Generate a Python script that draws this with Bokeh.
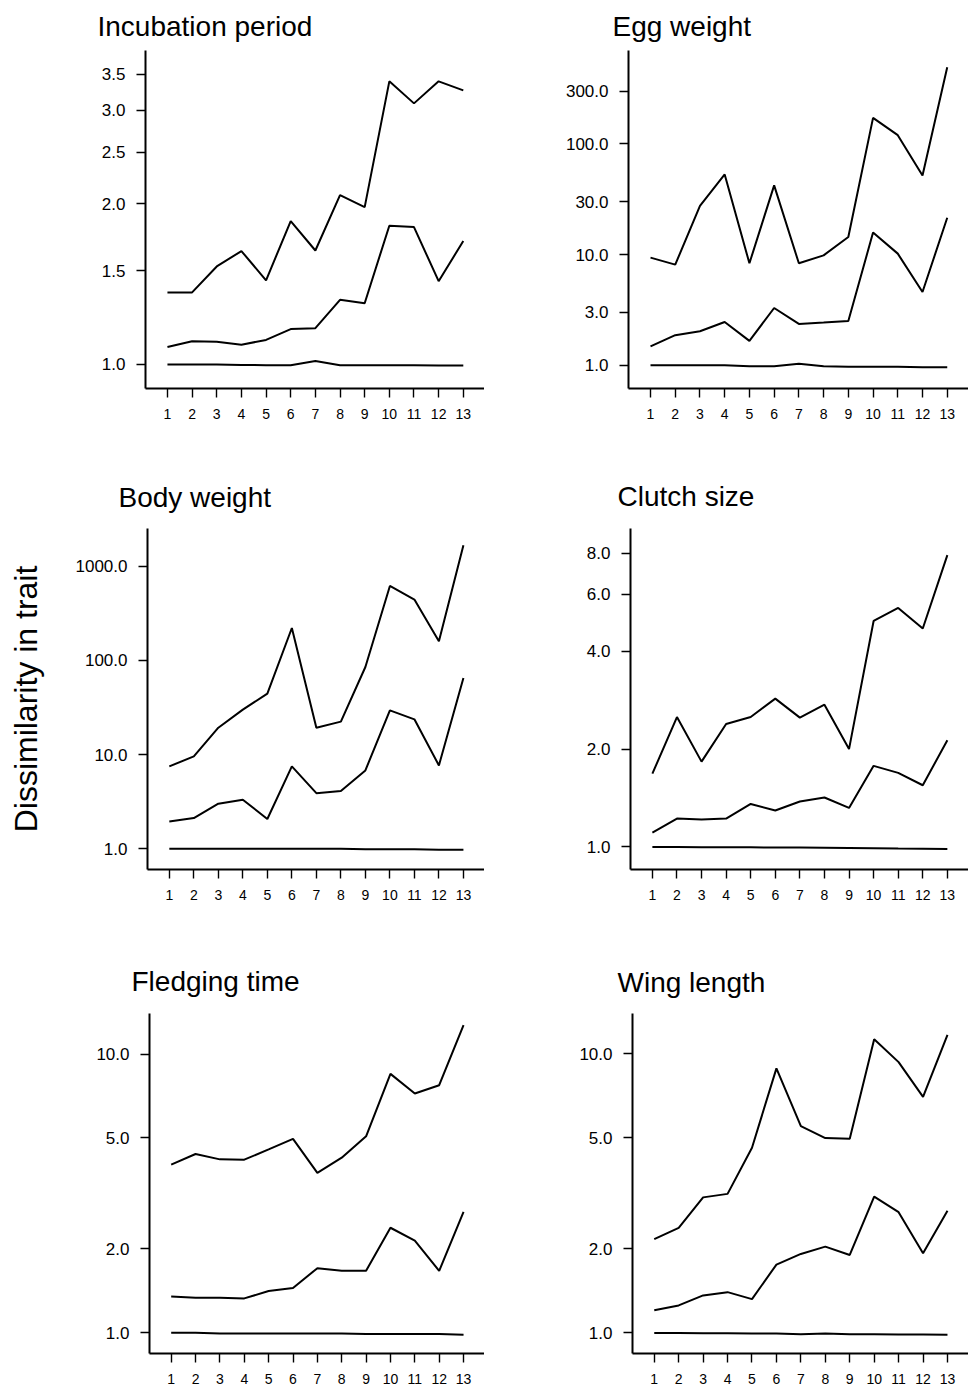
from bokeh.plotting import figure
from bokeh.models import FixedTicker, PrintfTickFormatter, Range1d
from bokeh.layouts import column, row
from bokeh.embed import file_html
from bokeh.resources import INLINE

steps = list(range(1, 14))
x_tick_labels = [str(s) for s in steps]

# Incubation period
inc_upper = [1.365, 1.365, 1.527, 1.632, 1.438, 1.858, 1.636, 2.078, 1.973, 3.396, 3.088, 3.396, 3.267]
inc_median = [1.078, 1.106, 1.103, 1.089, 1.112, 1.165, 1.170, 1.322, 1.303, 1.821, 1.810, 1.433, 1.704]
inc_lower = [1.0, 1.0, 1.0, 0.998, 0.997, 0.997, 1.015, 0.997, 0.997, 0.997, 0.997, 0.996, 0.996]
inc_ticks = [1.0, 1.5, 2.0, 2.5, 3.0, 3.5]

# Egg weight
egg_upper = [9.38, 8.11, 27.5, 53.0, 8.34, 42.2, 8.34, 9.84, 14.4, 172.0, 120.0, 51.9, 494.0]
egg_median = [1.48, 1.87, 2.03, 2.46, 1.66, 3.29, 2.36, 2.43, 2.51, 15.8, 10.2, 4.59, 21.5]
egg_lower = [1.0, 1.0, 1.0, 1.0, 0.98, 0.98, 1.03, 0.98, 0.97, 0.97, 0.97, 0.96, 0.96]
egg_ticks = [1.0, 3.0, 10.0, 30.0, 100.0, 300.0]

# Body weight
body_upper = [7.50, 9.58, 19.3, 30.0, 44.4, 221.0, 19.3, 22.4, 85.2, 618.0, 443.0, 160.0, 1673.0]
body_median = [1.95, 2.12, 3.01, 3.32, 2.07, 7.50, 3.90, 4.10, 6.80, 29.5, 23.7, 7.68, 65.1]
body_lower = [1.0, 1.0, 1.0, 1.0, 1.0, 1.0, 1.0, 1.0, 0.99, 0.99, 0.99, 0.98, 0.98]
body_ticks = [1.0, 10.0, 100.0, 1000.0]

# Clutch size
clutch_upper = [1.68, 2.51, 1.83, 2.39, 2.51, 2.86, 2.50, 2.74, 2.00, 4.96, 5.44, 4.70, 7.91]
clutch_median = [1.107, 1.222, 1.214, 1.222, 1.356, 1.294, 1.379, 1.419, 1.318, 1.776, 1.690, 1.548, 2.130]
clutch_lower = [1.0, 1.0, 0.998, 0.998, 0.997, 0.996, 0.995, 0.994, 0.992, 0.99, 0.988, 0.987, 0.985]
clutch_ticks = [1.0, 2.0, 4.0, 6.0, 8.0]

# Fledging time
fledge_upper = [4.01, 4.38, 4.19, 4.18, 4.55, 4.96, 3.75, 4.25, 5.07, 8.49, 7.22, 7.73, 12.7]
fledge_median = [1.35, 1.337, 1.337, 1.329, 1.412, 1.447, 1.706, 1.669, 1.669, 2.382, 2.141, 1.669, 2.717]
fledge_lower = [1.0, 1.0, 0.995, 0.995, 0.995, 0.995, 0.995, 0.995, 0.99, 0.99, 0.99, 0.99, 0.985]
fledge_ticks = [1.0, 2.0, 5.0, 10.0]

# Wing length
wing_upper = [2.17, 2.38, 3.06, 3.15, 4.61, 8.87, 5.51, 4.99, 4.96, 11.28, 9.34, 7.01, 11.69]
wing_median = [1.205, 1.255, 1.363, 1.400, 1.322, 1.758, 1.919, 2.038, 1.903, 3.081, 2.709, 1.929, 2.739]
wing_lower = [1.0, 1.0, 0.997, 0.997, 0.995, 0.995, 0.99, 0.995, 0.99, 0.99, 0.988, 0.987, 0.985]
wing_ticks = [1.0, 2.0, 5.0, 10.0]

y_title = "Dissimilarity in trait"

FONT = "Liberation Sans"
X_LO, X_HI = 0.11, 13.86


def panel(title, upper, median, lower, yticks, ylo, yhi, height, b_left, b_top, b_bottom,
          t_offset, t_standoff, ylabel=None):
    p = figure(width=484, height=height, y_axis_type="log",
               x_range=Range1d(X_LO, X_HI), y_range=Range1d(ylo, yhi),
               output_backend="svg", toolbar_location=None,
               min_border_left=b_left, min_border_right=0,
               min_border_top=b_top, min_border_bottom=b_bottom)
    p.outline_line_color = None
    p.grid.visible = False
    for ys in (upper, median, lower):
        p.line(steps, ys, line_color="black", line_width=2)
    p.title.text = title
    p.title.align = "left"
    p.title.offset = t_offset
    p.title.standoff = t_standoff
    p.title.text_font = FONT
    p.title.text_font_size = "28px"
    p.title.text_font_style = "normal"
    p.title.text_color = "black"

    p.xaxis.ticker = FixedTicker(ticks=steps, minor_ticks=[])
    p.xaxis.major_label_overrides = {s: l for s, l in zip(steps, x_tick_labels)}
    p.yaxis.ticker = FixedTicker(ticks=yticks, minor_ticks=[])
    p.yaxis.formatter = PrintfTickFormatter(format="%.1f")
    for ax in (p.xaxis[0], p.yaxis[0]):
        ax.axis_line_width = 2
        ax.axis_line_color = "black"
        ax.major_tick_line_color = "black"
        ax.major_tick_line_width = 1.4
        ax.major_tick_in = 0
        ax.major_tick_out = 9
        ax.minor_tick_line_color = None
        ax.major_label_text_font = FONT
        ax.major_label_text_color = "black"
    p.xaxis.major_label_text_font_size = "14px"
    p.xaxis.major_label_standoff = 11
    p.yaxis.major_label_text_font_size = "17px"
    p.yaxis.major_label_standoff = 11
    if ylabel:
        p.yaxis.axis_label = ylabel
        p.yaxis.axis_label_text_font = FONT
        p.yaxis.axis_label_text_font_size = "32px"
        p.yaxis.axis_label_text_font_style = "normal"
        p.yaxis.axis_label_text_color = "black"
        p.yaxis.axis_label_standoff = 29
    return p


p1 = panel("Incubation period", inc_upper, inc_median, inc_lower, inc_ticks, 0.9015, 3.88,
           445, 145, 50, 57, -48, 17)
p2 = panel("Egg weight", egg_upper, egg_median, egg_lower, egg_ticks, 0.616, 699.0,
           445, 144, 50, 57, -16, 17)
p3 = panel("Body weight", body_upper, body_median, body_lower, body_ticks, 0.603, 2515.0,
           485, 147, 83, 61, -29, 31, ylabel=y_title)
p4 = panel("Clutch size", clutch_upper, clutch_median, clutch_lower, clutch_ticks, 0.852, 9.55,
           485, 146, 83, 61, -13, 34)
p5 = panel("Fledging time", fledge_upper, fledge_median, fledge_lower, fledge_ticks, 0.843, 13.98,
           460, 149, 83, 35, -18, 34)
p6 = panel("Wing length", wing_upper, wing_median, wing_lower, wing_ticks, 0.844, 13.95,
           460, 148, 82, 37, -15, 31)

layout = column(row(p1, p2), row(p3, p4), row(p5, p6))
open("out.html", "w").write(file_html(layout, INLINE))
